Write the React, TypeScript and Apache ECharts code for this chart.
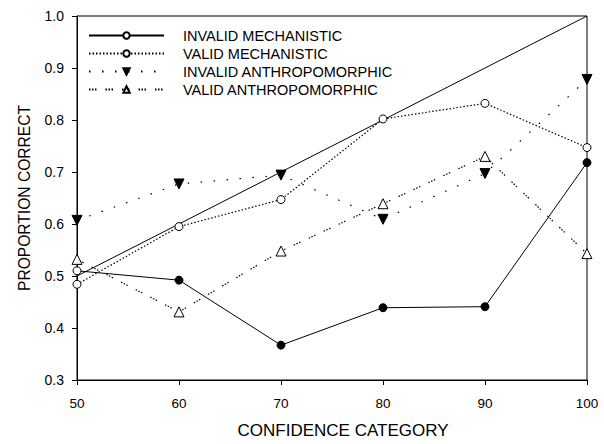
import React, { useEffect, useRef } from "react";
import * as echarts from "echarts";

const categories = [50, 60, 70, 80, 90, 100];
const invalidMechanistic = [0.51, 0.492, 0.367, 0.439, 0.441, 0.718];
const validMechanistic = [0.484, 0.595, 0.647, 0.802, 0.832, 0.747];
const invalidAnthropomorphic = [0.607, 0.677, 0.694, 0.609, 0.697, 0.878];
const validAnthropomorphic = [0.532, 0.431, 0.548, 0.639, 0.73, 0.543];
const referenceLine = [[50, 0.5], [100, 1.0]];
const seriesNames = [
  "INVALID MECHANISTIC",
  "VALID MECHANISTIC",
  "INVALID ANTHROPOMORPHIC",
  "VALID ANTHROPOMORPHIC",
];

export default function App() {
  const ref = useRef<HTMLDivElement>(null);
  useEffect(() => {
    const chart = echarts.init(ref.current!, null, { renderer: "svg" });
    const font = "Arial, 'Liberation Sans', sans-serif";
    const pair = (vals: number[]) => categories.map((c, i) => [c, vals[i]]);
    chart.setOption({
      animation: false,
      backgroundColor: "#fff",
      textStyle: { fontFamily: font, color: "#000" },
      grid: {
        left: 77,
        right: 17,
        top: 16,
        bottom: 63,
        show: true,
        borderColor: "#000",
        borderWidth: 1,
        backgroundColor: "transparent",
      },
      legend: {
        orient: "vertical",
        left: 83,
        top: 23,
        itemWidth: 75,
        itemHeight: 8,
        itemGap: 3,
        data: seriesNames,
        textStyle: {
          fontSize: 14.5,
          fontFamily: font,
          color: "#000",
          padding: [0, 0, 0, 14],
        },
      },
      xAxis: {
        type: "value",
        min: 50,
        max: 100,
        interval: 10,
        name: "CONFIDENCE CATEGORY",
        nameLocation: "middle",
        nameGap: 42,
        nameTextStyle: {
          fontSize: 17,
          fontFamily: font,
          color: "#000",
          padding: [0, 0, 0, 22],
        },
        axisLine: { lineStyle: { color: "#000", width: 1 } },
        axisTick: { inside: false, length: 5, lineStyle: { color: "#000" } },
        axisLabel: { fontSize: 13.5, fontFamily: font, color: "#000", margin: 16 },
        splitLine: { show: false },
      },
      yAxis: {
        type: "value",
        min: 0.3,
        max: 1.0,
        interval: 0.1,
        name: "PROPORTION CORRECT",
        nameLocation: "middle",
        nameGap: 45,
        nameTextStyle: { fontSize: 15.6, fontFamily: font, color: "#000" },
        axisLine: { show: true, lineStyle: { color: "#000", width: 1 } },
        axisTick: { show: true, inside: false, length: 5, lineStyle: { color: "#000" } },
        axisLabel: {
          fontSize: 14,
          fontFamily: font,
          color: "#000",
          margin: 13,
          formatter: (v: number) => v.toFixed(1),
        },
        splitLine: { show: false },
      },
      series: [
        {
          name: seriesNames[0],
          type: "line",
          data: pair(invalidMechanistic).map((d, i) => ({
            value: d,
            itemStyle:
              i === 0
                ? { color: "#fff", borderColor: "#000", borderWidth: 1 }
                : { color: "#000", borderColor: "#000" },
          })),
          symbol: "circle",
          symbolSize: 8,
          itemStyle: { color: "#fff", borderColor: "#000", borderWidth: 1 },
          lineStyle: { color: "#000", width: 1, type: "solid" },
          z: 3,
        },
        {
          name: seriesNames[1],
          type: "line",
          data: pair(validMechanistic),
          symbol: "circle",
          symbolSize: 8,
          itemStyle: { color: "#fff", borderColor: "#000", borderWidth: 1 },
          lineStyle: { color: "#000", width: 1.2, type: [1.5, 2] },
          z: 3,
        },
        {
          name: seriesNames[2],
          type: "line",
          data: pair(invalidAnthropomorphic),
          symbol: "triangle",
          symbolRotate: 180,
          symbolSize: 10,
          itemStyle: { color: "#000", borderColor: "#000", borderWidth: 1 },
          lineStyle: { color: "#000", width: 1.2, type: [1.5, 11.5] },
          z: 3,
        },
        {
          name: seriesNames[3],
          type: "line",
          data: pair(validAnthropomorphic),
          symbol: "triangle",
          symbolSize: 10,
          itemStyle: { color: "#fff", borderColor: "#000", borderWidth: 1 },
          lineStyle: { color: "#000", width: 1.2, type: [1.5, 1.5, 1.5, 1.5, 1.5, 9] },
          z: 3,
        },
        {
          name: "reference",
          type: "line",
          data: referenceLine,
          symbol: "none",
          lineStyle: { color: "#000", width: 1, type: "solid" },
          silent: true,
          z: 2,
        },
      ],
    });
    return () => chart.dispose();
  }, []);
  return (
    <div
      ref={ref}
      style={{ position: "fixed", left: 0, top: 0, width: 604, height: 444 }}
    />
  );
}
